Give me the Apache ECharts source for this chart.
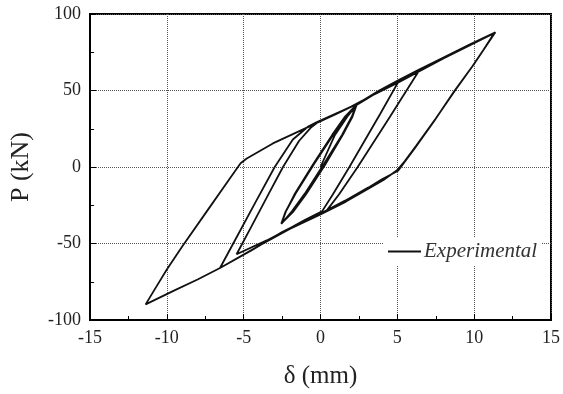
<!DOCTYPE html>
<html>
<head>
<meta charset="utf-8">
<script src="https://cdn.jsdelivr.net/npm/echarts@6/dist/echarts.min.js"></script>
<style>
  html, body { margin: 0; padding: 0; background: #fff; }
  #chart { width: 563px; height: 394px; }
</style>
</head>
<body>
<div id="chart"></div>
<script>
const disp = [
  0.0, 0.94, 1.73, 2.35,
  2.08, 1.45, 0.26, -0.98, -1.82, -2.55,
  -2.28, -1.66, -0.46, 0.80, 1.62, 2.30,
  2.10, 1.48, 0.30, -0.94, -1.80, -2.50,
  -2.30, -1.70, -0.50, 0.76, 1.60, 2.31,
  2.04, 1.40, 0.22, -1.02, -1.86, -2.55,
  -2.25, -1.62, -0.42, 0.84, 1.68, 2.35,
  3.0, 3.82, 4.5, 5.12,
  3.9, 1.88, 0.8, 0.1,
  -1.0, -2.0, -3.5, -5.46,
  -4.5, -3.4, -2.44, -1.4, -0.6, -0.2,
  1.0, 2.35, 3.82, 5.12, 6.45,
  4.5, 2.42, 1.2, 0.4,
  -1.0, -2.5, -4.5, -6.54,
  -5.6, -4.2, -2.98, -1.8, -0.8, -0.3,
  1.0, 2.35, 3.82, 5.12, 6.45, 8.0, 9.7, 11.38,
  10.7, 9.97, 8.79, 7.49, 6.2, 5.5, 5.0, 4.1, 3.17, 1.66, 0.0,
  -2.0, -4.0, -6.54, -8.0, -9.57, -11.38,
  -10.7, -10.0, -9.0, -7.4, -5.9, -5.2, -4.8, -3.1, -1.8, -0.5, 0.5, 2.0,
  3.5, 5.1, 6.5, 8.0, 9.7, 11.3,
  10.6, 9.9, 8.7, 7.4, 6.15, 5.45, 5.05, 4.0, 3.1, 1.6, 0.0
];
const load = [
  0.0, 21.0, 32.7, 40.5,
  32.8, 21.1, 1.8, -17.6, -29.2, -37.0,
  -29.3, -17.6, 1.7, 21.1, 32.7, 40.0,
  33.5, 21.5, 1.5, -17.8, -29.5, -36.5,
  -30.0, -18.0, 1.5, 21.0, 33.0, 40.4,
  33.0, 21.0, 2.0, -17.4, -29.0, -37.2,
  -29.0, -17.3, 2.0, 21.3, 33.2, 40.5,
  44.5, 49.5, 53.2, 56.6,
  35.0, 0.0, -18.0, -29.0,
  -34.5, -40.0, -48.0, -57.0,
  -39.0, -18.1, 0.0, 17.0, 26.0, 29.0,
  34.5, 41.0, 49.8, 56.8, 63.5,
  32.5, 0.0, -18.0, -28.5,
  -35.0, -42.5, -54.5, -66.0,
  -48.5, -22.5, 0.0, 18.0, 26.5, 29.0,
  35.0, 41.0, 50.0, 57.0, 63.8, 71.5, 80.0, 88.1,
  78.0, 67.0, 50.5, 31.5, 13.5, 4.0, -2.0, -8.5, -13.9, -22.6, -31.0,
  -40.5, -51.5, -66.0, -73.5, -81.0, -89.8,
  -78.5, -67.0, -52.0, -29.0, -7.5, 2.5, 5.6, 15.4, 21.5, 27.5, 32.5, 39.5,
  47.5, 55.5, 63.0, 71.0, 79.5, 87.5,
  76.5, 66.0, 49.5, 30.0, 12.5, 3.0, -2.5, -8.0, -13.5, -22.0, -30.5
];

const serif = '"Liberation Serif", "DejaVu Serif", serif';
const chart = echarts.init(document.getElementById('chart'));

chart.setOption({
  animation: false,
  backgroundColor: '#fff',
  grid: {
    left: 90, right: 10, top: 14, bottom: 73,
    show: true, borderColor: '#000', borderWidth: 2
  },
  legend: {
    data: ['Experimental'],
    left: 384, top: 237,
    icon: 'rect', itemWidth: 33, itemHeight: 2, itemGap: 4,
    padding: [4, 4],
    backgroundColor: '#fff',
    textStyle: { fontFamily: serif, fontStyle: 'italic', fontSize: 21, color: '#333', padding: [0, 0, 0, -2] }
  },
  xAxis: {
    type: 'value', min: -15, max: 15, interval: 5,
    name: 'δ (mm)', nameLocation: 'middle', nameGap: 44,
    nameTextStyle: { fontFamily: serif, fontSize: 25, color: '#222' },
    axisLine: { onZero: false, lineStyle: { color: '#000', width: 2 } },
    axisTick: { inside: true, length: 6, lineStyle: { color: '#000' } },
    minorTick: { show: true, splitNumber: 2, length: 4, lineStyle: { color: '#000' } },
    axisLabel: { fontFamily: serif, fontSize: 18, color: '#222', margin: 9 },
    splitLine: { show: true, lineStyle: { color: '#555', type: 'dotted', width: 1 } }
  },
  yAxis: {
    type: 'value', min: -100, max: 100, interval: 50,
    name: 'P (kN)', nameLocation: 'middle', nameGap: 56,
    nameTextStyle: { fontFamily: serif, fontSize: 26, color: '#222' },
    axisLine: { onZero: false, lineStyle: { color: '#000', width: 2 } },
    axisTick: { inside: true, length: 6, lineStyle: { color: '#000' } },
    minorTick: { show: true, splitNumber: 2, length: 4, lineStyle: { color: '#000' } },
    axisLabel: { fontFamily: serif, fontSize: 18, color: '#222', margin: 9 },
    splitLine: { show: true, lineStyle: { color: '#555', type: 'dotted', width: 1 } }
  },
  series: [{
    name: 'Experimental',
    type: 'line',
    data: disp.map((x, i) => [x, load[i]]),
    showSymbol: false,
    lineStyle: { color: '#111', width: 1.8 },
    itemStyle: { color: '#111' }
  }]
});
</script>
</body>
</html>
